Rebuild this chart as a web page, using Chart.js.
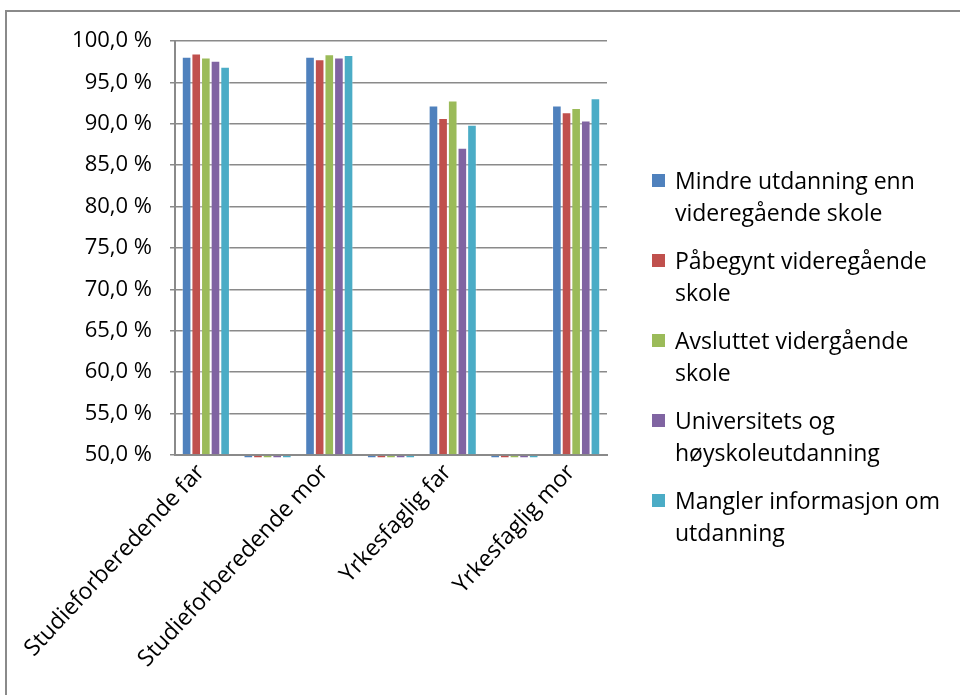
<!DOCTYPE html>
<html>
<head>
<meta charset="utf-8">
<script src="https://cdn.jsdelivr.net/npm/chart.js@4.4.0/dist/chart.umd.min.js"></script>
<style>
    html, body { margin: 0; padding: 0; background: #fff; overflow: hidden; }
    #wrap { position: relative; width: 960px; height: 695px; overflow: hidden; }
    #ramme { position: absolute; left: 5px; top: 10px; width: 1000px; height: 800px; border: 2px solid #8a8a8a; box-sizing: border-box; }
    #myChart { position: absolute; left: 0; top: 0; }
    #legend { position: absolute; left: 652px; top: 164px; width: 298px; font-family: "Open Sans", sans-serif; font-size: 23px; line-height: 32px; color: #000; }
    .legendItem { position: relative; padding-left: 23px; margin-bottom: 16px; }
    .legendBox { position: absolute; left: 0; top: 10px; width: 13px; height: 13px; }
</style>
</head>
<body>
<div id="wrap">
    <div id="ramme"></div>
    <canvas id="myChart" width="960" height="695"></canvas>
    <div id="legend"></div>
</div>
<script>
// Kategorier (tomme kategorier mellom gruppene)
const kategorier = ['Studieforberedende far', '', 'Studieforberedende mor', '', 'Yrkesfaglig far', '', 'Yrkesfaglig mor'];

const serieNavn = [
    'Mindre utdanning enn videregående skole',
    'Påbegynt videregående skole',
    'Avsluttet vidergående skole',
    'Universitets og høyskoleutdanning',
    'Mangler informasjon om utdanning'
];

// Verdier i prosent (tomme kategorier ligger litt under aksen)
const mindreUtdanning = [98.1, 49.6, 98.1, 49.6, 92.2, 49.6, 92.2];
const pabegyntVgs     = [98.5, 49.6, 97.8, 49.6, 90.7, 49.6, 91.4];
const avsluttetVgs    = [98.0, 49.6, 98.4, 49.6, 92.8, 49.6, 91.9];
const universitet     = [97.6, 49.6, 98.0, 49.6, 87.1, 49.6, 90.4];
const manglerInfo     = [96.9, 49.6, 98.3, 49.6, 89.9, 49.6, 93.1];

const yTicks = [50, 55, 60, 65, 70, 75, 80, 85, 90, 95, 100];

const farger = ['#4F81BD', '#C0504D', '#9BBB59', '#8064A2', '#4BACC6'];
const serier = [mindreUtdanning, pabegyntVgs, avsluttetVgs, universitet, manglerInfo];

const ctx = document.getElementById('myChart').getContext('2d');

const data = {
    labels: kategorier,
    datasets: serier.map((verdier, i) => ({
        label: serieNavn[i],
        data: verdier,
        base: 50,
        backgroundColor: farger[i],
        borderColor: 'rgba(255,255,255,0.35)',
        borderWidth: 1,
        categoryPercentage: 0.78,
        barPercentage: 1.0,
        clip: false
    }))
};

const options = {
    responsive: false,
    animation: false,
    layout: { padding: { left: 0, top: 41, right: 353, bottom: 0 } },
    plugins: {
        legend: { display: false },
        tooltip: { enabled: false }
    },
    scales: {
        x: {
            grid: { display: false, drawTicks: false },
            border: { display: true, color: '#8a8a8a', width: 2 },
            ticks: {
                color: '#000',
                font: { family: 'Open Sans', size: 23 },
                maxRotation: 47,
                minRotation: 47,
                autoSkip: false,
                labelOffset: -5,
                padding: 4
            },
            afterFit: function(scale) { scale.height = 240; }
        },
        y: {
            min: 50,
            max: 100,
            afterBuildTicks: function(scale) { scale.ticks = yTicks.map(v => ({ value: v })); },
            grid: { color: '#8a8a8a', lineWidth: 1.5, tickLength: 5 },
            border: { display: true, color: '#8a8a8a', width: 2 },
            ticks: {
                color: '#000',
                font: { family: 'Open Sans', size: 22 },
                padding: 18,
                callback: v => v.toFixed(1).replace('.', ',') + ' %'
            },
            afterFit: function(scale) { scale.width = 175; }
        }
    }
};

const myChart = new Chart(ctx, {
    type: 'bar',
    data: data,
    options: options
});

// Lag egen forklaring med linjeskift
const legend = document.getElementById('legend');
serieNavn.forEach(function(navn, i) {
    const item = document.createElement('div');
    item.className = 'legendItem';
    item.innerHTML = '<span class="legendBox" style="background:' + farger[i] + '"></span>' + navn;
    legend.appendChild(item);
});
</script>
</body>
</html>
